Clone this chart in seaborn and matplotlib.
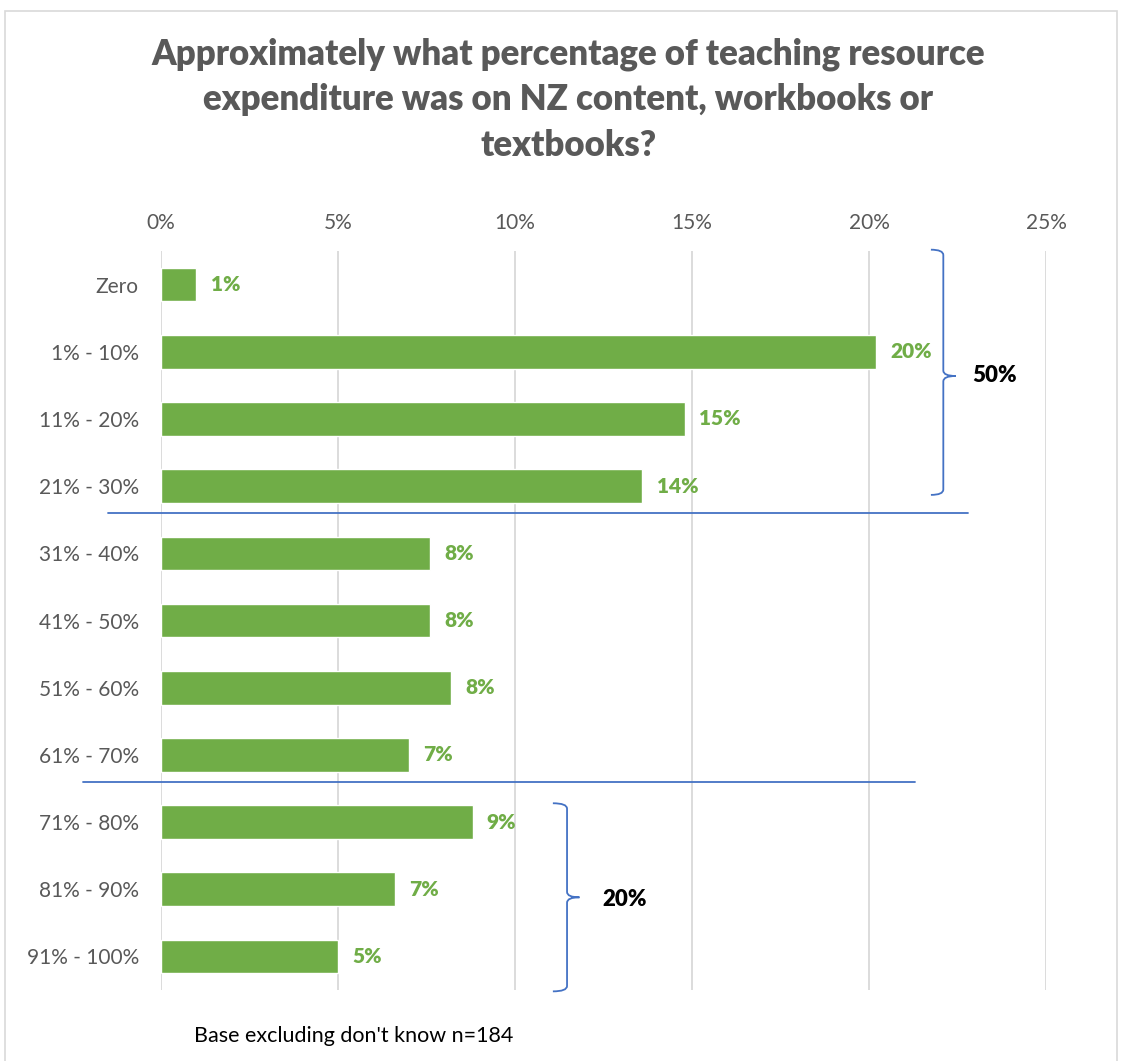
import matplotlib
matplotlib.use("Agg")
import matplotlib.pyplot as plt
import seaborn as sns
import pandas as pd
from matplotlib.path import Path as MPath
from matplotlib.patches import PathPatch, Rectangle
from matplotlib.ticker import PercentFormatter

categories = ['Zero', '1% - 10%', '11% - 20%', '21% - 30%', '31% - 40%',
              '41% - 50%', '51% - 60%', '61% - 70%', '71% - 80%',
              '81% - 90%', '91% - 100%']
values = [1.0, 20.2, 14.8, 13.6, 7.6, 7.6, 8.2, 7.0, 8.8, 6.6, 5.0]
value_labels = ['1%', '20%', '15%', '14%', '8%', '8%', '8%', '7%', '9%', '7%', '5%']
x_ticks = [0, 5, 10, 15, 20, 25]

GREEN = '#70AD47'
GREY = '#595959'
BLUE = '#4472C4'

sns.set_style('white')
plt.rcParams['font.family'] = ['Lato', 'DejaVu Sans']

df = pd.DataFrame({'category': categories, 'value': values})

fig = plt.figure(figsize=(11.23, 10.61), dpi=100)
ax = fig.add_axes([0.1434, 0.0669, 0.7880, 0.6965])

sns.barplot(data=df, x='value', y='category', orient='h', color=GREEN,
            saturation=1, width=0.5, ax=ax)

ax.set_xlim(0, 25)
ax.set_ylim(10.5, -0.5)
ax.set_xticks(x_ticks)
ax.xaxis.set_major_formatter(PercentFormatter(decimals=0))
ax.xaxis.tick_top()
ax.tick_params(axis='x', length=0, labelsize=15, labelcolor=GREY, pad=13)
ax.tick_params(axis='y', length=0, labelsize=15, labelcolor=GREY, pad=16)
ax.set_xlabel('')
ax.set_ylabel('')
ax.grid(True, axis='x', color='#D9D9D9', linewidth=1.3)
ax.set_axisbelow(True)
for s in ax.spines.values():
    s.set_visible(False)

for i, (v, lab) in enumerate(zip(values, value_labels)):
    ax.text(v + 0.4, i, lab, color=GREEN, fontsize=15, fontweight='heavy',
            va='center', ha='left')

# separator lines between the groups
ax.plot([-1.5, 22.8], [3.40, 3.40], color=BLUE, linewidth=1.3, clip_on=False)
ax.plot([-2.2, 21.3], [7.40, 7.40], color=BLUE, linewidth=1.3, clip_on=False)


def brace(ax, x, y0, y1, ym, tip=0.4, point=0.35, r=0.08):
    verts = [(x - tip, y0), (x, y0), (x, y0 + r),
             (x, ym - r), (x, ym), (x + point, ym),
             (x + point, ym), (x, ym), (x, ym + r),
             (x, y1 - r), (x, y1), (x - tip, y1)]
    codes = [MPath.MOVETO, MPath.CURVE3, MPath.CURVE3,
             MPath.LINETO, MPath.CURVE3, MPath.CURVE3,
             MPath.MOVETO, MPath.CURVE3, MPath.CURVE3,
             MPath.LINETO, MPath.CURVE3, MPath.CURVE3]
    ax.add_patch(PathPatch(MPath(verts, codes), facecolor='none',
                           edgecolor=BLUE, linewidth=1.3, clip_on=False))


brace(ax, 22.1, -0.52, 3.13, 1.36, tip=0.35, point=0.35)
brace(ax, 11.47, 7.72, 10.52, 9.12, tip=0.4, point=0.35)

ax.text(23.55, 1.36, '50%', fontsize=16, fontweight='heavy', color='black',
        ha='center', va='center')
ax.text(13.1, 9.15, '20%', fontsize=16, fontweight='heavy', color='black',
        ha='center', va='center')

fig.text(0.506, 0.906,
         'Approximately what percentage of teaching resource\n'
         'expenditure was on NZ content, workbooks or\ntextbooks?',
         ha='center', va='center', fontsize=25, fontweight='heavy',
         color=GREY, linespacing=1.45)

fig.text(0.173, 0.024, "Base excluding don't know n=184", fontsize=15.5,
         color='black', ha='left', va='center')

fig.patches.append(Rectangle((0.0045, -0.01), 0.99, 1.0, transform=fig.transFigure,
                             fill=False, edgecolor='#D9D9D9', linewidth=1.2))

fig.savefig('out.png', dpi=100)
